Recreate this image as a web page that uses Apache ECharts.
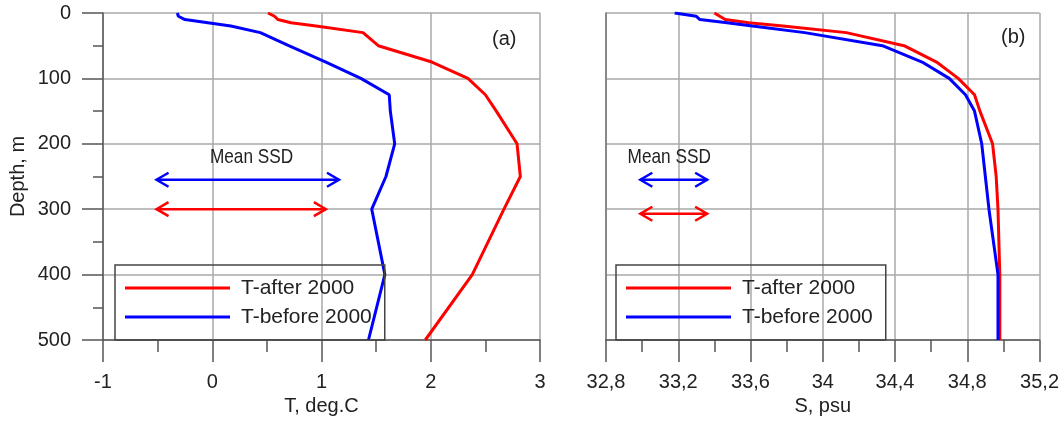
<!DOCTYPE html>
<html>
<head>
<meta charset="utf-8">
<script src="https://cdn.jsdelivr.net/npm/echarts@6/dist/echarts.min.js"></script>
<style>
  html, body { margin: 0; padding: 0; background: #fff; }
  #chart { width: 1062px; height: 423px; }
</style>
</head>
<body>
<div id="chart"></div>
<script>
// Profile depths (m) shared by all four profiles
const depths = [0, 5, 10, 15, 20, 30, 50, 75, 100, 125, 150, 200, 250, 300, 400, 500];

// Temperature, deg.C
const tAfter  = [0.51, 0.57, 0.60, 0.72, 0.95, 1.38, 1.52, 2.01, 2.34, 2.50, 2.60, 2.79, 2.82, 2.67, 2.38, 1.95];
const tBefore = [-0.32, -0.31, -0.25, -0.04, 0.17, 0.44, 0.70, 1.04, 1.36, 1.62, 1.63, 1.67, 1.59, 1.46, 1.58, 1.43];

// Salinity, psu
const sAfter  = [33.40, 33.43, 33.46, 33.59, 33.78, 34.13, 34.45, 34.63, 34.75, 34.84, 34.87, 34.94, 34.96, 34.97, 34.98, 34.98];
const sBefore = [33.18, 33.30, 33.32, 33.47, 33.61, 33.90, 34.33, 34.55, 34.70, 34.79, 34.84, 34.88, 34.90, 34.92, 34.97, 34.97];

// Mean SSD arrows: [after, before]
const ssdDepthT = [300, 255];
const ssdFromT  = [-0.51, -0.51];
const ssdToT    = [1.04, 1.16];
const ssdDepthS = [307, 255];
const ssdFromS  = [32.99, 32.99];
const ssdToS    = [33.36, 33.36];
const ssdLabelPosT = [0.36, 220];
const ssdLabelPosS = [33.15, 221];

// Axis ticks
const depthTicks = { min: 0, max: 500, step: 100 };
const tTicks = { min: -1, max: 3, step: 1 };
const sTicks = { min: 32.8, max: 35.2, step: 0.4 };

const seriesNames = ['T-after 2000', 'T-before 2000'];
const RED = '#ff0000', BLUE = '#0000ff';
const FONT = "'Liberation Sans', Arial, Helvetica, sans-serif";

const pairs = (vals) => vals.map((v, i) => [v, depths[i]]);

function arrowSeries(xi, yi, from, to, dep) {
  return {
    type: 'custom', xAxisIndex: xi, yAxisIndex: yi, silent: true, z: 5,
    encode: { x: [0, 1], y: 2 },
    data: from.map((f, i) => ({ value: [f, to[i], dep[i]], itemStyle: { color: i === 0 ? RED : BLUE } })),
    renderItem: function (params, api) {
      const a = api.coord([api.value(0), api.value(2)]);
      const b = api.coord([api.value(1), api.value(2)]);
      const c = api.visual('color');
      const hl = 12, hw = 7;
      const st = { stroke: c, lineWidth: 2.5, fill: 'none' };
      return {
        type: 'group',
        children: [
          { type: 'line', shape: { x1: a[0], y1: a[1], x2: b[0], y2: b[1] }, style: st },
          { type: 'polyline', shape: { points: [[a[0] + hl, a[1] - hw], [a[0], a[1]], [a[0] + hl, a[1] + hw]] }, style: st },
          { type: 'polyline', shape: { points: [[b[0] - hl, b[1] - hw], [b[0], b[1]], [b[0] - hl, b[1] + hw]] }, style: st }
        ]
      };
    }
  };
}

function labelSeries(xi, yi, pos, text) {
  return {
    type: 'custom', xAxisIndex: xi, yAxisIndex: yi, silent: true, z: 5,
    data: [pos],
    renderItem: function (params, api) {
      const p = api.coord([api.value(0), api.value(1)]);
      return {
        type: 'text', x: p[0], y: p[1], scaleX: 0.82,
        style: { text: text, fontSize: 21, fontFamily: FONT, fill: '#222', align: 'center', verticalAlign: 'middle' }
      };
    }
  };
}

const gridLine = { show: true, lineStyle: { color: '#a8a8a8', width: 1.5 } };
const axisLineStyle = { show: true, onZero: false, lineStyle: { color: '#5a5a5a', width: 1.5 } };

function xAxisCfg(gi, ticks, name, fmt) {
  return {
    type: 'value', gridIndex: gi, position: 'bottom',
    min: ticks.min, max: ticks.max, interval: ticks.step,
    name: name, nameLocation: 'middle', nameGap: 50,
    nameTextStyle: { fontSize: 20, color: '#222', fontFamily: FONT },
    axisLine: axisLineStyle,
    axisTick: { show: true, length: 22, lineStyle: { color: '#555', width: 1.5 } },
    minorTick: { show: true, splitNumber: 2, length: 12, lineStyle: { color: '#555', width: 1.5 } },
    axisLabel: { fontSize: 20, color: '#222', fontFamily: FONT, margin: 32, formatter: fmt },
    splitLine: gridLine
  };
}

function legendCfg(left) {
  return {
    orient: 'vertical', left: left, top: 265,
    data: seriesNames,
    icon: 'rect', itemWidth: 105, itemHeight: 3, itemGap: 5,
    padding: [11, 13, 11, 10],
    borderColor: '#444', borderWidth: 1.5,
    textStyle: { fontSize: 21, color: '#222', fontFamily: FONT, lineHeight: 24, padding: [0, 0, 0, 6] },
    selectedMode: false
  };
}

const option = {
  animation: false,
  backgroundColor: '#fff',
  textStyle: { fontFamily: FONT },
  grid: [
    { left: 103, top: 13, width: 437, height: 327 },
    { left: 606, top: 13, width: 435, height: 327 }
  ],
  xAxis: [
    xAxisCfg(0, tTicks, 'T, deg.C', v => String(v)),
    xAxisCfg(1, sTicks, 'S, psu', v => String(+(+v).toFixed(1)).replace('.', ','))
  ],
  yAxis: [
    {
      type: 'value', gridIndex: 0, inverse: true,
      min: depthTicks.min, max: depthTicks.max, interval: depthTicks.step,
      name: 'Depth, m', nameLocation: 'middle', nameGap: 75, nameRotate: 90,
      nameTextStyle: { fontSize: 20, color: '#222', fontFamily: FONT },
      axisLine: axisLineStyle,
      axisTick: { show: true, length: 21, lineStyle: { color: '#555', width: 1.5 } },
      minorTick: { show: true, splitNumber: 2, length: 10, lineStyle: { color: '#555', width: 1.5 } },
      axisLabel: { fontSize: 20, color: '#222', fontFamily: FONT, margin: 32 },
      splitLine: gridLine
    },
    {
      type: 'value', gridIndex: 1, inverse: true,
      min: depthTicks.min, max: depthTicks.max, interval: depthTicks.step,
      axisLine: { show: true, onZero: false, lineStyle: { color: '#777', width: 1.5 } },
      axisTick: { show: false },
      axisLabel: { show: false },
      splitLine: gridLine
    }
  ],
  legend: [legendCfg(115), legendCfg(616)],
  graphic: [
    { type: 'text', left: 492, top: 29, style: { text: '(a)', fontSize: 20, fill: '#222', fontFamily: FONT } },
    { type: 'text', left: 1001, top: 27, style: { text: '(b)', fontSize: 20, fill: '#222', fontFamily: FONT } }
  ],
  series: [
    { name: seriesNames[0], type: 'line', xAxisIndex: 0, yAxisIndex: 0, data: pairs(tAfter),
      showSymbol: false, symbol: 'none', lineStyle: { color: RED, width: 3 }, itemStyle: { color: RED }, z: 3 },
    { name: seriesNames[1], type: 'line', xAxisIndex: 0, yAxisIndex: 0, data: pairs(tBefore),
      showSymbol: false, symbol: 'none', lineStyle: { color: BLUE, width: 3 }, itemStyle: { color: BLUE }, z: 3 },
    { name: seriesNames[0], type: 'line', xAxisIndex: 1, yAxisIndex: 1, data: pairs(sAfter),
      showSymbol: false, symbol: 'none', lineStyle: { color: RED, width: 3 }, itemStyle: { color: RED }, z: 3 },
    { name: seriesNames[1], type: 'line', xAxisIndex: 1, yAxisIndex: 1, data: pairs(sBefore),
      showSymbol: false, symbol: 'none', lineStyle: { color: BLUE, width: 3 }, itemStyle: { color: BLUE }, z: 3 },
    arrowSeries(0, 0, ssdFromT, ssdToT, ssdDepthT),
    arrowSeries(1, 1, ssdFromS, ssdToS, ssdDepthS),
    labelSeries(0, 0, ssdLabelPosT, 'Mean SSD'),
    labelSeries(1, 1, ssdLabelPosS, 'Mean SSD')
  ]
};

const chart = echarts.init(document.getElementById('chart'), null, { renderer: 'canvas' });
chart.setOption(option);
</script>
</body>
</html>
